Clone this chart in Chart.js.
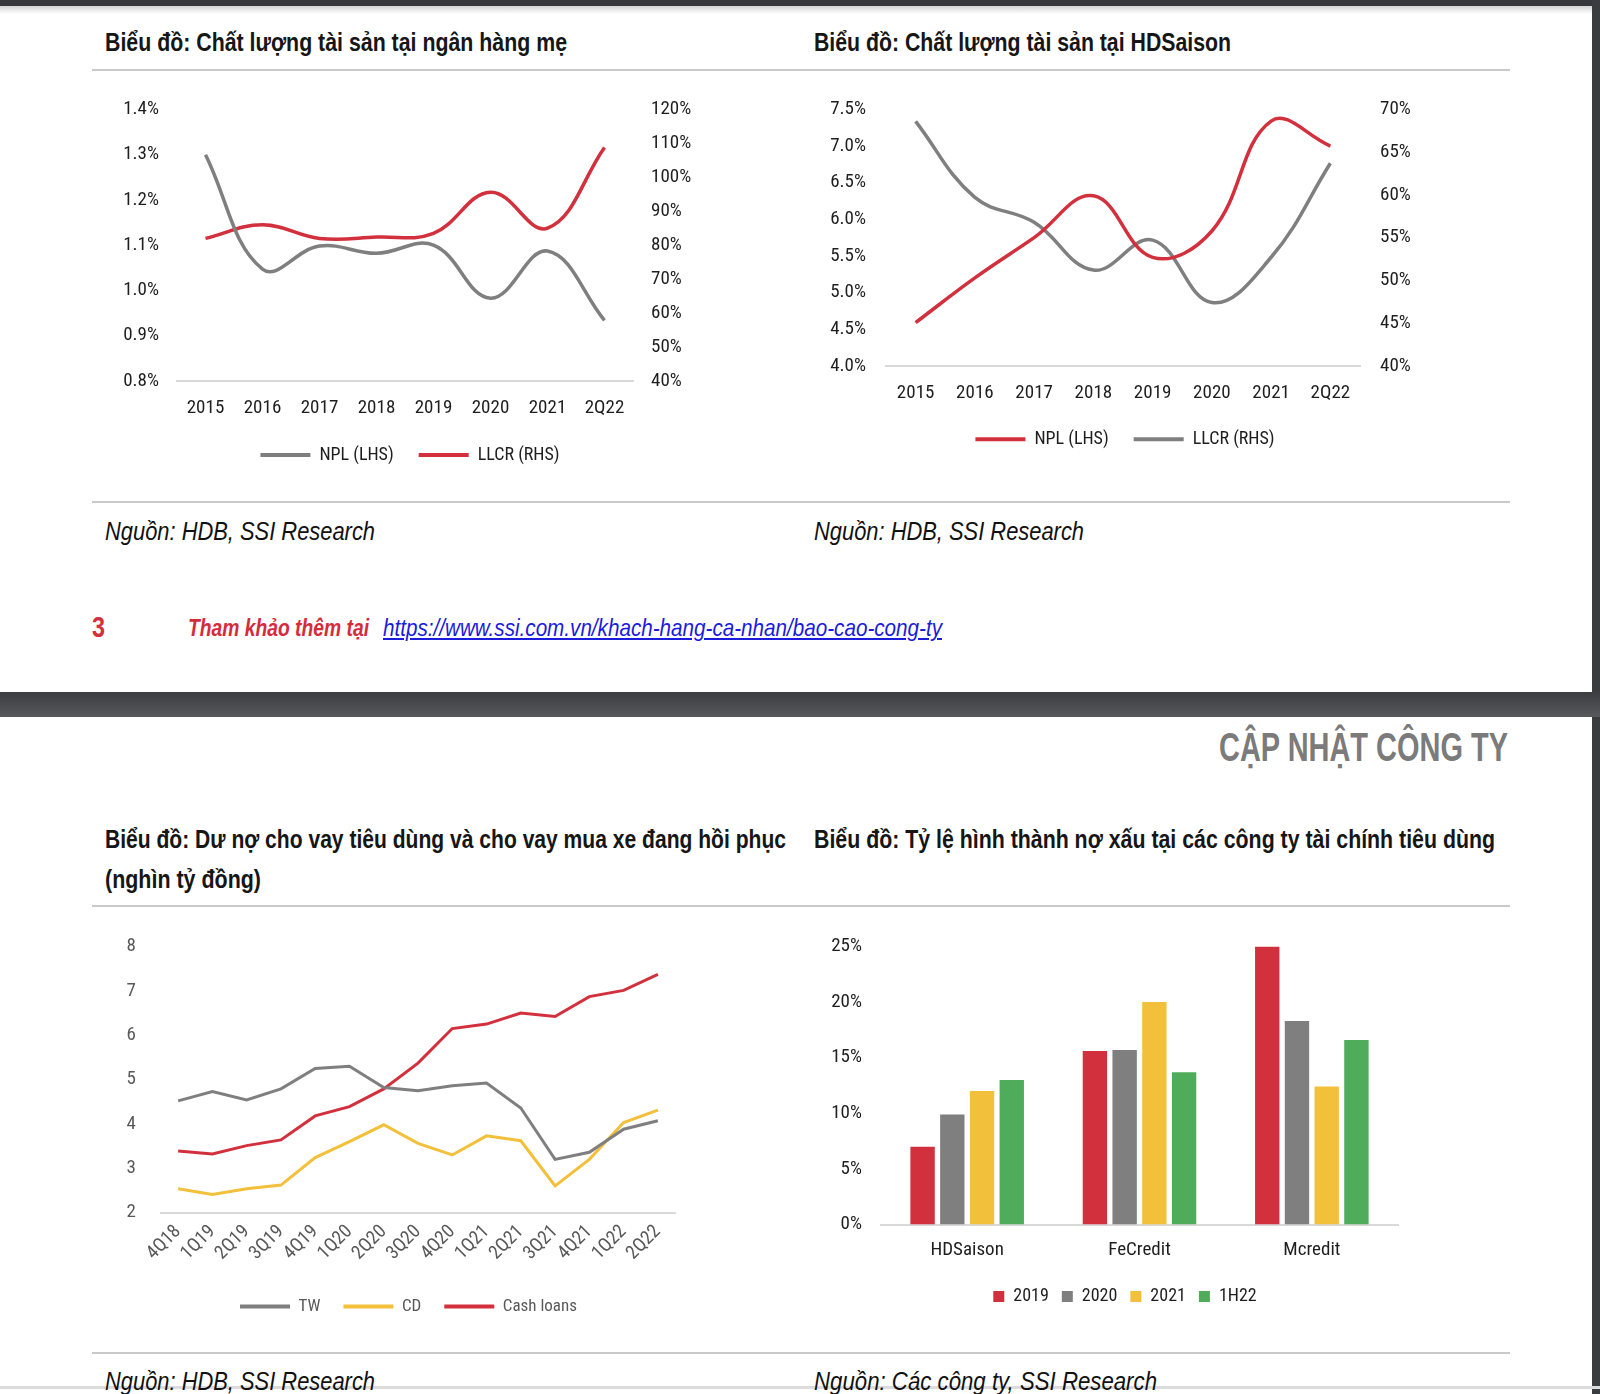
<!DOCTYPE html>
<html>
<head>
<meta charset="utf-8">
<script src="https://cdn.jsdelivr.net/npm/chart.js@4.4.0/dist/chart.umd.min.js"></script>
<style>
body { margin: 0; width: 1600px; height: 1394px; overflow: hidden; background: #fff; position: relative;
       font-family: "Liberation Sans", Arial, sans-serif; }
.t { position: absolute; white-space: nowrap; line-height: 1; transform-origin: 0 0; }
.title { font-weight: bold; font-size: 26px; color: #161616; }
.src { font-style: italic; font-size: 26px; color: #111; }
.rule { position: absolute; left: 92px; width: 1418px; height: 2px; background: #c9c9c9; }
canvas { position: absolute; }
</style>
</head>
<body>
<!-- khung trang -->
<div style="position:absolute;left:0;top:0;width:1600px;height:6px;background:#37393c"></div>
<div style="position:absolute;left:0;top:6px;width:1600px;height:8px;background:linear-gradient(#d4d4d4,#fff)"></div>
<div style="position:absolute;left:1592px;top:0;width:8px;height:1394px;background:#3a3c40"></div>
<div style="position:absolute;left:0;top:692px;width:1600px;height:25px;background:linear-gradient(#3b3d41,#57595d)"></div>
<div style="position:absolute;left:0;top:1386px;width:1600px;height:3px;background:#dcdcdc"></div>

<div class="t title fit" data-w="462" style="left:105px;top:29px">Biểu đồ: Chất lượng tài sản tại ngân hàng mẹ</div>
<div class="t title fit" data-w="417" style="left:814px;top:29px">Biểu đồ: Chất lượng tài sản tại HDSaison</div>
<div class="rule" style="top:69px"></div>

<canvas id="bankChart" width="620" height="400" style="left:92px;top:80px"></canvas>
<canvas id="hdsChart" width="620" height="400" style="left:800px;top:78px"></canvas>

<div class="rule" style="top:501px"></div>
<div class="t src fit" data-w="270" style="left:105px;top:518px">Nguồn: HDB, SSI Research</div>
<div class="t src fit" data-w="270" style="left:814px;top:518px">Nguồn: HDB, SSI Research</div>

<div class="t fit" data-w="13" style="left:92px;top:613px;font-size:29px;font-weight:bold;color:#d2303c">3</div>
<div class="t fit" data-w="181" style="left:188px;top:616px;font-size:24px;font-weight:bold;font-style:italic;color:#d62b3b">Tham khảo thêm tại</div>
<div class="t fit" data-w="559" style="left:383px;top:616px;font-size:24px;font-style:italic;color:#1b1bdc;text-decoration:underline">https://www.ssi.com.vn/khach-hang-ca-nhan/bao-cao-cong-ty</div>

<div class="t fit" data-w="289" style="left:1219px;top:727px;font-size:40px;font-weight:bold;color:#7b7b7b">CẬP NHẬT CÔNG TY</div>

<div class="t title fit" data-w="681" style="left:105px;top:826px">Biểu đồ: Dư nợ cho vay tiêu dùng và cho vay mua xe đang hồi phục</div>
<div class="t title fit" data-w="156" style="left:105px;top:866px">(nghìn tỷ đồng)</div>
<div class="t title fit" data-w="681" style="left:814px;top:826px">Biểu đồ: Tỷ lệ hình thành nợ xấu tại các công ty tài chính tiêu dùng</div>
<div class="rule" style="top:905px"></div>

<canvas id="loanChart" width="640" height="440" style="left:92px;top:905px"></canvas>
<canvas id="nplChart" width="700" height="420" style="left:800px;top:905px"></canvas>

<div class="rule" style="top:1352px"></div>
<div class="t src fit" data-w="270" style="left:105px;top:1368px">Nguồn: HDB, SSI Research</div>
<div class="t src fit" data-w="343" style="left:814px;top:1368px">Nguồn: Các công ty, SSI Research</div>

<script>
// Dữ liệu
const years = ['2015', '2016', '2017', '2018', '2019', '2020', '2021', '2Q22'];
const bankNpl = [1.30, 1.047, 1.098, 1.082, 1.10, 0.983, 1.087, 0.934];
const bankLlcr = [82, 86, 82, 82.4, 83.5, 95.6, 85, 108.8];
const hdsNpl = [4.59, 5.2, 5.75, 6.32, 5.48, 5.84, 7.34, 7.0];
const hdsLlcr = [68.6, 59.7, 56.8, 51.2, 54.7, 47.4, 52.7, 63.7];

const quarters = ['4Q18', '1Q19', '2Q19', '3Q19', '4Q19', '1Q20', '2Q20', '3Q20', '4Q20', '1Q21', '2Q21', '3Q21', '4Q21', '1Q22', '2Q22'];
const twLoans = [4.52, 4.73, 4.54, 4.79, 5.25, 5.30, 4.82, 4.75, 4.86, 4.92, 4.36, 3.20, 3.36, 3.88, 4.07];
const cdLoans = [2.54, 2.41, 2.54, 2.62, 3.24, 3.60, 3.98, 3.56, 3.30, 3.73, 3.62, 2.60, 3.20, 4.03, 4.31];
const cashLoans = [3.39, 3.32, 3.51, 3.64, 4.18, 4.39, 4.79, 5.37, 6.15, 6.25, 6.50, 6.42, 6.87, 7.01, 7.37];

const companies = ['HDSaison', 'FeCredit', 'Mcredit'];
const periods = ['2019', '2020', '2021', '1H22'];
const npl2019 = [7.0, 15.6, 25.0];
const npl2020 = [9.9, 15.7, 18.3];
const npl2021 = [12.0, 20.0, 12.4];
const npl1H22 = [13.0, 13.7, 16.6];

const RED = '#d3303d', GRAY = '#7f7f7f', YELLOW = '#f3c03b', GREEN = '#4eac5b';
const FONT = '"Roboto Condensed", "Liberation Sans", sans-serif';

Chart.defaults.font.family = FONT;
Chart.defaults.font.size = 19;
Chart.defaults.color = '#1e1e1e';
Chart.defaults.animation = false;

function lineSet(label, data, color, axis) {
    return {
        label: label, data: data, yAxisID: axis,
        borderColor: color, backgroundColor: color,
        borderWidth: 3.5, pointRadius: 0, pointBorderWidth: 4,
        tension: 0.4, fill: false
    };
}

function xAxis(pad) {
    return {
        offset: true,
        grid: { display: false, drawTicks: false },
        border: { display: true, color: '#d9d9d9', width: 2 },
        ticks: { padding: pad }
    };
}

function fixWidth(w) { return s => { s.width = w; }; }
function fixHeight(h) { return s => { s.height = h; }; }

// bề rộng nhãn dài nhất, để nhãn trục hẹp vẫn canh phải đúng chỗ
function widest(labels) {
    const ctx = document.createElement('canvas').getContext('2d');
    ctx.font = '19px ' + FONT;
    return Math.max(...labels.map(s => ctx.measureText(s).width));
}

function lineLegend(pad, size, color) {
    return {
        position: 'bottom',
        labels: { usePointStyle: true, pointStyle: 'line', pointStyleWidth: 50, padding: pad, color: color, font: { size: size } }
    };
}

// Chất lượng tài sản tại ngân hàng mẹ
new Chart(document.getElementById('bankChart'), {
    type: 'line',
    data: {
        labels: years,
        datasets: [
            lineSet('NPL (LHS)', bankNpl, GRAY, 'y'),
            lineSet('LLCR (RHS)', bankLlcr, RED, 'y1')
        ]
    },
    options: {
        responsive: false,
        layout: { padding: { top: 14, left: 16, bottom: 6 } },
        plugins: { legend: lineLegend(25, 18, '#1e1e1e'), tooltip: { enabled: false } },
        scales: {
            x: Object.assign(xAxis(16), { afterFit: fixHeight(40) }),
            y: {
                position: 'left', min: 0.8, max: 1.4,
                grid: { display: false, drawTicks: false }, border: { display: false },
                ticks: { stepSize: 0.1, padding: 18, callback: v => v.toFixed(1) + '%' },
                afterFit: fixWidth(69)
            },
            y1: {
                position: 'right', min: 40, max: 120,
                grid: { display: false, drawTicks: false }, border: { display: false },
                ticks: { stepSize: 10, padding: 18, callback: v => v + '%' },
                afterFit: fixWidth(79)
            }
        }
    }
});

// Chất lượng tài sản tại HDSaison
new Chart(document.getElementById('hdsChart'), {
    type: 'line',
    data: {
        labels: years,
        datasets: [
            lineSet('NPL (LHS)', hdsNpl, RED, 'y'),
            lineSet('LLCR (RHS)', hdsLlcr, GRAY, 'y1')
        ]
    },
    options: {
        responsive: false,
        layout: { padding: { top: 14, left: 30, bottom: 19.7 } },
        plugins: { legend: lineLegend(25, 18, '#1e1e1e'), tooltip: { enabled: false } },
        scales: {
            x: Object.assign(xAxis(16), { afterFit: fixHeight(39.5) }),
            y: {
                position: 'left', min: 4, max: 7.5,
                grid: { display: false, drawTicks: false }, border: { display: false },
                ticks: { stepSize: 0.5, padding: 20, callback: v => v.toFixed(1) + '%' },
                afterFit: fixWidth(56)
            },
            y1: {
                position: 'right', min: 40, max: 70,
                grid: { display: false, drawTicks: false }, border: { display: false },
                ticks: { stepSize: 5, padding: 20, callback: v => v + '%' },
                afterFit: fixWidth(60)
            }
        }
    }
});

// Dư nợ cho vay tiêu dùng
new Chart(document.getElementById('loanChart'), {
    type: 'line',
    data: {
        labels: quarters,
        datasets: [
            Object.assign(lineSet('TW', twLoans, GRAY, 'y'), { tension: 0, borderWidth: 3 }),
            Object.assign(lineSet('CD', cdLoans, YELLOW, 'y'), { tension: 0, borderWidth: 3 }),
            Object.assign(lineSet('Cash loans', cashLoans, RED, 'y'), { tension: 0, borderWidth: 3 })
        ]
    },
    options: {
        responsive: false,
        layout: { padding: { top: 41.5, left: 50, right: 57, bottom: 19.9 } },
        plugins: { legend: lineLegend(23, 17, '#595959'), tooltip: { enabled: false } },
        scales: {
            x: Object.assign(xAxis(8), {
                afterFit: fixHeight(62.5),
                ticks: { padding: 8, minRotation: 45, maxRotation: 45, autoSkip: false, color: '#595959' }
            }),
            y: {
                min: 2, max: 8,
                grid: { display: false, drawTicks: false }, border: { display: false },
                ticks: {
                    stepSize: 1, color: '#595959', mirror: true, crossAlign: 'far',
                    padding: -25 - widest(['2', '3', '4', '5', '6', '7', '8'])
                },
                afterFit: fixWidth(19)
            }
        }
    }
});

// Tỷ lệ hình thành nợ xấu
new Chart(document.getElementById('nplChart'), {
    type: 'bar',
    data: {
        labels: companies,
        datasets: [
            { label: periods[0], data: npl2019, backgroundColor: RED },
            { label: periods[1], data: npl2020, backgroundColor: GRAY },
            { label: periods[2], data: npl2021, backgroundColor: YELLOW },
            { label: periods[3], data: npl1H22, backgroundColor: GREEN }
        ]
    },
    options: {
        responsive: false,
        categoryPercentage: 0.69,
        barPercentage: 0.82,
        layout: { padding: { top: 41.5, left: 52, right: 102, bottom: 9.5 } },
        plugins: {
            legend: { position: 'bottom', labels: { boxWidth: 11, boxHeight: 11, padding: 13, font: { size: 18 } } },
            tooltip: { enabled: false }
        },
        scales: {
            x: Object.assign(xAxis(14), { afterFit: fixHeight(50) }),
            y: {
                min: 0, max: 25,
                grid: { display: false, drawTicks: false }, border: { display: false },
                ticks: {
                    stepSize: 5, mirror: true, crossAlign: 'far',
                    padding: -19 - widest(['0%', '5%', '10%', '15%', '20%', '25%']),
                    callback: v => v + '%'
                },
                afterFit: fixWidth(29)
            }
        }
    }
});

// Co giãn chữ cho khớp bề rộng
document.querySelectorAll('.fit').forEach(el => {
    const w = el.getBoundingClientRect().width;
    el.style.transform = 'scaleX(' + (Number(el.dataset.w) / w) + ')';
});
</script>
</body>
</html>
